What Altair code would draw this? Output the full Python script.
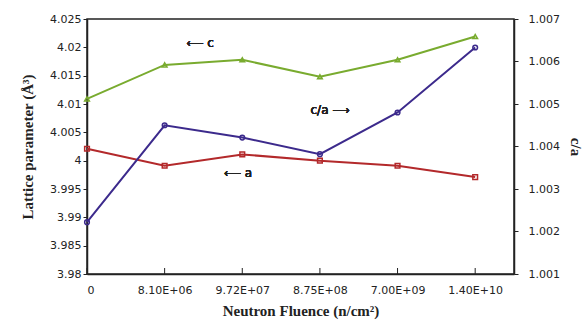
import altair as alt
import pandas as pd

fluence_labels = ["0", "8.10E+06", "9.72E+07", "8.75E+08", "7.00E+09", "1.40E+10"]
idx = [0, 1, 2, 3, 4, 5]
c_vals = [4.0109, 4.0169, 4.0178, 4.0148, 4.0178, 4.0219]
a_vals = [4.0021, 3.9991, 4.0011, 4.0000, 3.9991, 3.9971]
ca_vals = [1.00222, 1.00450, 1.00421, 1.00382, 1.00480, 1.00633]
left_ticks = [3.98, 3.985, 3.99, 3.995, 4.0, 4.005, 4.01, 4.015, 4.02, 4.025]
right_ticks = [1.001, 1.002, 1.003, 1.004, 1.005, 1.006, 1.007]

df_c = pd.DataFrame({"x": idx, "y": c_vals})
df_a = pd.DataFrame({"x": idx, "y": a_vals})
df_ca = pd.DataFrame({"x": idx, "y": ca_vals})
df_ticks = pd.DataFrame({"x": idx})

GREEN = "#79ab2f"
RED = "#b3292b"
BLUE = "#3c2a8c"
label_expr = "[" + ",".join("'%s'" % s for s in fluence_labels) + "][datum.value]"

xscale = alt.Scale(domain=[0, 5.5], nice=False, zero=False)
xaxis = alt.Axis(values=idx, labelExpr=label_expr, title="Neutron Fluence (n/cm²)",
                 grid=False, ticks=False, labelFont="DejaVu Sans", labelFontSize=11,
                 labelColor="#222", labelPadding=10, labelOverlap=False,
                 titleFont="Liberation Serif",
                 titleFontSize=15, titleFontWeight="bold", titleColor="#222",
                 titlePadding=8, domainColor="#222", domainWidth=1.5)
yscale_l = alt.Scale(domain=[3.98, 4.025], nice=False, zero=False)
yaxis_l = alt.Axis(values=left_ticks, format=".3~f", labelOverlap=False,
                   title="Lattice parameter (Å³)", grid=False, tickSize=4,
                   tickColor="#222", labelFont="DejaVu Sans", labelFontSize=11,
                   labelColor="#222", titleFont="Liberation Serif", titleFontSize=15,
                   titleFontWeight="bold", titleColor="#222", titlePadding=14,
                   domainColor="#222", domainWidth=1.5)
yscale_r = alt.Scale(domain=[1.001, 1.007], nice=False, zero=False)
yaxis_r = alt.Axis(orient="right", values=right_ticks, labelOverlap=False,
                   format=".3f", title="c/a", grid=False, tickSize=4, tickColor="#222",
                   labelFont="DejaVu Sans", labelFontSize=11, labelColor="#222",
                   labelPadding=10, titleFont="Liberation Serif", titleFontSize=15,
                   titleFontWeight="bold", titleColor="#222", titlePadding=8,
                   domainColor="#222", domainWidth=1.5)

X = alt.X("x:Q", scale=xscale, axis=xaxis)
YL = alt.Y("y:Q", scale=yscale_l, axis=yaxis_l)
YR = alt.Y("y:Q", scale=yscale_r, axis=yaxis_r)

def series(df, color, shape, Y):
    line = alt.Chart(df).mark_line(color=color, strokeWidth=2).encode(x=X, y=Y)
    pts = alt.Chart(df).mark_point(color=color, shape=shape, filled=False, size=22,
                                   strokeWidth=1.5, opacity=1).encode(x=X, y=Y)
    return line + pts

ticks = alt.Chart(df_ticks).mark_rule(color="#222", strokeWidth=1).encode(
    x=X, y=alt.value(255), y2=alt.value(249))

txt = dict(fontSize=12, font="DejaVu Sans", color="#222", fontWeight="normal")
ann_c = alt.Chart(df_ticks).mark_text(**txt).encode(
    x=alt.value(113), y=alt.value(24), text=alt.value("⟵ c"))
ann_a = alt.Chart(df_ticks).mark_text(**txt).encode(
    x=alt.value(151), y=alt.value(154), text=alt.value("⟵ a"))
ann_ca = alt.Chart(df_ticks).mark_text(**txt).encode(
    x=alt.value(243), y=alt.value(91), text=alt.value("c/a ⟶"))

left = alt.layer(series(df_c, GREEN, "triangle-up", YL),
                 series(df_a, RED, "square", YL), ticks, ann_c, ann_a, ann_ca)
right = series(df_ca, BLUE, "circle", YR)

chart = alt.layer(left, right).resolve_scale(y="independent").properties(
    width=427, height=255,
    autosize=alt.AutoSizeParams(type="none"),
    padding={"left": 87, "top": 19, "right": 73, "bottom": 50},
    background="white",
).configure_view(stroke="#222", strokeWidth=1.5)

chart.save("out.html", embed_options={"renderer": "svg", "actions": False})
